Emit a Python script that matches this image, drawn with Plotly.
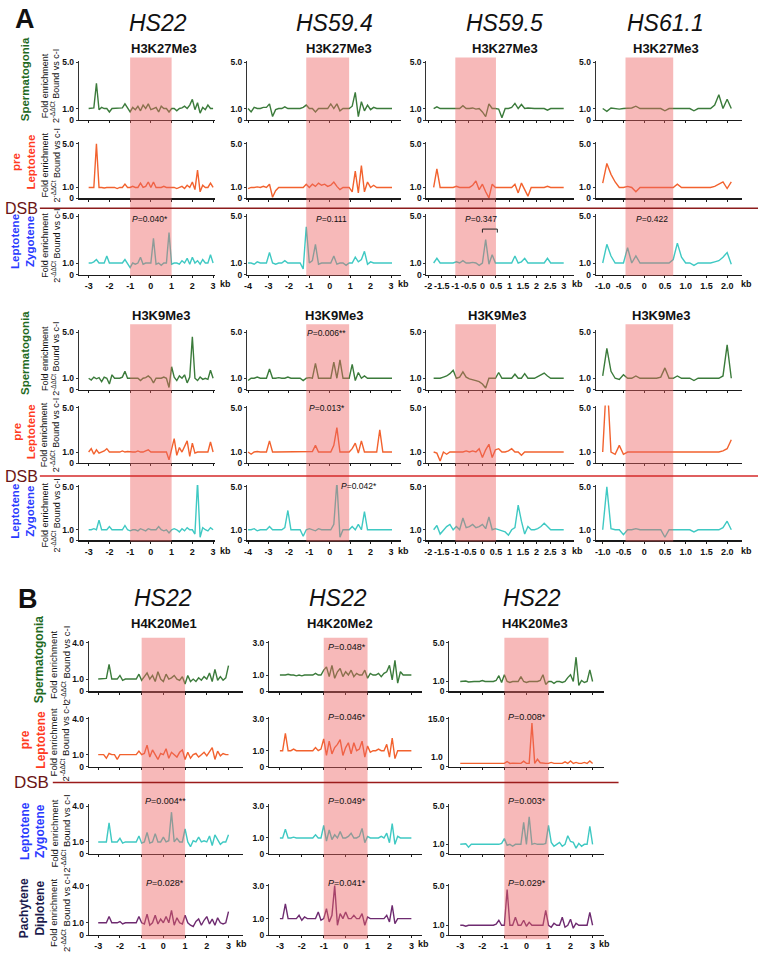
import plotly.graph_objects as go

W, H = 760, 959
FONT = "Liberation Sans, Arial, Helvetica, sans-serif"


def fx(p):
    return p / W


def fy(p):
    return 1 - p / H


# ---------------- positions (kb) ----------------
pos_hs22 = [-3.0, -2.875, -2.75, -2.625, -2.5, -2.375, -2.25, -2.125, -2.0, -1.875, -1.75, -1.625, -1.5,
            -1.375, -1.25, -1.125, -1.0, -0.875, -0.75, -0.625, -0.5, -0.375, -0.25, -0.125, 0.0, 0.125,
            0.25, 0.375, 0.5, 0.625, 0.75, 0.875, 1.0, 1.125, 1.25, 1.375, 1.5, 1.625, 1.75, 1.875, 2.0,
            2.125, 2.25, 2.375, 2.5, 2.625, 2.75, 2.875, 3.0]
pos_hs594 = [-4.0, -3.85, -3.7, -3.55, -3.4, -3.25, -3.1, -2.95, -2.8, -2.65, -2.5, -2.35, -2.2, -2.05,
             -1.9, -1.75, -1.6, -1.45, -1.3, -1.15, -1.0, -0.85, -0.7, -0.55, -0.4, -0.25, -0.1, 0.05,
             0.2, 0.35, 0.5, 0.65, 0.8, 0.95, 1.1, 1.25, 1.4, 1.55, 1.7, 1.85, 2.0, 2.15, 2.3, 2.45,
             2.6, 2.75, 2.9, 3.05]
pos_hs595 = [-1.8, -1.68, -1.56, -1.44, -1.32, -1.2, -1.08, -0.96, -0.84, -0.72, -0.6, -0.48, -0.36,
             -0.24, -0.12, 0.0, 0.12, 0.24, 0.36, 0.48, 0.6, 0.72, 0.84, 0.96, 1.08, 1.2, 1.32, 1.44,
             1.56, 1.68, 1.8, 1.92, 2.04, 2.16, 2.28, 2.4, 2.52, 2.64, 2.76, 2.88, 3.0]
pos_hs611 = [-1.0, -0.9, -0.8, -0.7, -0.6, -0.5, -0.4, -0.3, -0.2, -0.1, 0.0, 0.1, 0.2, 0.3, 0.4, 0.5,
             0.6, 0.7, 0.8, 0.9, 1.0, 1.1, 1.2, 1.3, 1.4, 1.5, 1.6, 1.7, 1.8, 1.9, 2.0, 2.1]

# ---------------- A: H3K27Me3 ----------------
k27_hs22_sg = [1.0, 1.0, 1.05, 3.2, 0.9, 1.1, 1.0, 1.0, 0.7, 1.0,
               1.0, 1.0, 1.0, 1.05, 1.4, 1.0, 0.7, 1.1, 0.9, 1.2,
               0.8, 1.3, 1.0, 1.4, 0.9, 1.0, 1.1, 0.7, 1.2, 1.0,
               1.0, 0.7, 1.0, 1.0, 0.8, 1.0, 1.05, 1.2, 1.0, 1.3,
               1.8, 0.9, 1.5, 0.6, 1.1, 0.9, 1.3, 1.0, 1.0]
k27_hs22_pl = [1.0, 1.0, 1.0, 5.0, 1.0, 1.0, 0.95, 1.0, 1.0, 1.0,
               1.0, 0.9, 1.0, 1.0, 1.3, 1.0, 1.0, 1.1, 1.0, 1.0,
               1.4, 1.0, 1.1, 1.5, 1.0, 1.5, 1.0, 1.0, 1.0, 1.1,
               1.0, 1.0, 1.0, 1.0, 0.9, 1.0, 1.1, 0.9, 1.2, 1.0,
               1.5, 0.8, 2.6, 0.6, 1.2, 1.0, 1.0, 1.4, 1.0]
k27_hs22_lz = [1.0, 1.0, 1.1, 1.3, 1.0, 1.0, 1.0, 1.6, 1.0, 1.0,
               1.0, 1.0, 1.0, 1.0, 1.3, 1.0, 0.6, 1.0, 0.9, 1.0,
               1.5, 0.9, 1.0, 1.0, 1.0, 3.1, 0.9, 1.0, 0.8, 1.0,
               1.0, 3.6, 0.9, 1.0, 1.0, 0.9, 1.2, 1.0, 1.4, 0.9,
               1.5, 1.0, 1.2, 0.9, 1.3, 1.0, 1.0, 1.7, 1.0]
k27_hs594_sg = [1.0, 0.7, 1.1, 1.0, 1.0, 1.1, 1.1, 1.4, 0.3, 0.9,
                1.0, 1.0, 1.15, 1.0, 1.0, 1.0, 1.0, 1.0, 1.1, 1.3,
                1.0, 1.0, 0.7, 1.0, 1.0, 1.0, 1.0, 1.4, 1.0, 1.4,
                0.8, 1.0, 1.0, 1.0, 1.2, 2.4, 0.3, 1.6, 0.8, 1.3,
                0.9, 1.1, 1.0, 1.0, 1.0, 1.0, 1.0, 1.0]
k27_hs594_pl = [0.9, 1.0, 1.0, 1.05, 1.0, 1.1, 1.0, 1.3, 0.1, 0.7,
                1.0, 1.0, 1.0, 1.0, 1.05, 1.0, 1.0, 1.0, 1.0, 1.3,
                1.0, 1.3, 1.1, 1.4, 1.2, 1.3, 1.1, 1.2, 1.5, 1.1,
                0.8, 1.0, 1.0, 1.0, 0.6, 2.5, 0.5, 3.0, 0.6, 1.5,
                1.0, 1.2, 1.0, 1.0, 1.0, 1.0, 1.0, 1.0]
k27_hs594_lz = [1.0, 1.0, 0.9, 1.1, 1.0, 1.0, 1.0, 1.9, 1.0, 0.9,
                1.0, 1.0, 1.2, 1.0, 1.0, 1.0, 1.05, 1.0, 0.5, 4.1,
                1.0, 1.2, 2.6, 0.9, 1.0, 1.0, 1.05, 1.0, 1.6, 0.9,
                1.0, 1.0, 0.8, 1.0, 1.0, 1.5, 1.1, 1.3, 2.0, 0.9,
                1.1, 1.0, 1.0, 1.0, 1.0, 1.0, 1.0, 1.0]
k27_hs595_sg = [1.0, 1.15, 1.0, 1.0, 1.05, 1.0, 1.0, 1.0, 1.0, 1.25,
                1.0, 1.0, 1.05, 0.95, 1.0, 0.7, 0.3, 1.4, 1.0, 1.0,
                0.95, 0.2, 1.0, 1.0, 1.1, 1.45, 1.0, 1.35, 1.0, 1.05,
                1.0, 1.0, 1.0, 1.0, 1.0, 0.85, 1.0, 1.0, 1.0, 1.0, 1.0]
k27_hs595_pl = [1.0, 2.7, 1.0, 1.0, 1.0, 1.0, 1.0, 1.1, 1.0, 1.0,
                1.0, 1.0, 1.2, 1.6, 0.8, 1.3, 0.6, 0.05, 1.3, 1.0,
                1.0, 1.0, 1.0, 1.0, 1.0, 1.3, 0.5, 1.4, 0.8, 0.2,
                1.0, 1.0, 1.0, 1.0, 1.0, 1.1, 1.0, 1.0, 1.0, 1.0, 1.0]
k27_hs595_lz = [1.0, 1.4, 1.0, 1.0, 1.05, 1.0, 1.0, 1.1, 1.0, 1.2,
                1.0, 1.0, 1.05, 1.0, 0.8, 1.0, 3.0, 0.9, 1.7, 1.0,
                1.0, 1.0, 1.0, 1.0, 1.0, 1.6, 1.0, 1.1, 1.4, 1.0,
                1.0, 1.0, 1.0, 1.0, 1.0, 1.4, 1.0, 1.0, 1.0, 1.0, 1.0]
k27_hs611_sg = [1.0, 0.75, 1.05, 1.0, 0.95, 1.0, 1.0, 1.05, 1.2, 1.0,
                1.0, 1.0, 1.0, 1.0, 1.0, 0.8, 1.0, 1.0, 1.0, 1.0,
                1.0, 1.0, 0.8, 1.0, 1.0, 1.0, 1.0, 1.3, 2.2, 1.0,
                1.8, 1.0]
k27_hs611_pl = [1.4, 3.2, 2.2, 1.5, 1.0, 1.0, 1.1, 1.0, 0.6, 1.0,
                1.0, 1.0, 1.0, 1.0, 1.0, 1.0, 1.0, 1.0, 1.3, 1.0,
                1.0, 1.0, 1.0, 1.0, 1.0, 1.0, 1.0, 1.1, 1.3, 1.5,
                0.9, 1.5]
k27_hs611_lz = [1.0, 2.6, 1.6, 1.0, 1.0, 1.0, 2.3, 1.0, 1.6, 1.0,
                1.0, 1.0, 1.0, 1.0, 1.0, 1.0, 1.0, 1.3, 2.7, 1.5,
                1.0, 1.0, 0.8, 1.0, 1.0, 1.0, 1.0, 1.1, 1.2, 1.5,
                1.9, 0.9]

# ---------------- A: H3K9Me3 ----------------
k9_hs22_sg = [1.0, 0.85, 1.1, 0.95, 1.05, 0.7, 1.1, 1.0, 0.5, 1.3,
              1.0, 1.0, 1.0, 1.1, 1.6, 1.0, 1.0, 1.0, 0.95, 1.0,
              0.8, 1.0, 1.05, 1.2, 1.0, 0.6, 1.0, 1.0, 1.0, 1.1,
              1.0, 0.2, 2.0, 1.1, 0.8, 1.2, 1.0, 1.3, 0.6, 1.1,
              4.6, 1.0, 0.8, 1.1, 0.9, 1.0, 0.9, 1.7, 1.0]
k9_hs22_pl = [1.0, 1.3, 0.8, 1.2, 0.9, 1.0, 1.1, 1.3, 1.0, 1.0,
              1.0, 1.0, 1.0, 1.1, 1.0, 1.05, 1.0, 1.0, 1.0, 1.1,
              1.0, 1.0, 1.1, 1.2, 1.0, 1.0, 1.0, 1.0, 1.05, 1.0,
              1.0, 0.3, 1.2, 2.2, 0.7, 1.4, 1.0, 1.5, 2.0, 0.6,
              1.8, 0.9, 1.0, 1.0, 1.0, 1.0, 1.0, 1.9, 1.0]
k9_hs22_lz = [1.0, 1.0, 1.1, 1.0, 1.9, 1.0, 1.0, 1.0, 1.3, 1.0,
              1.0, 1.0, 1.0, 1.0, 1.4, 1.0, 0.9, 1.0, 1.0, 0.9,
              1.1, 1.0, 0.9, 1.1, 1.0, 1.0, 1.0, 1.3, 1.0, 0.9,
              1.0, 0.7, 1.0, 1.1, 1.0, 0.8, 1.1, 0.9, 1.2, 1.0,
              1.0, 0.6, 5.5, 0.3, 1.2, 1.0, 0.9, 1.2, 1.0]
k9_hs594_sg = [0.8, 1.0, 1.0, 1.1, 1.0, 1.0, 1.0, 1.8, 1.0, 1.0,
               1.05, 1.0, 1.0, 1.1, 1.0, 1.0, 1.0, 1.0, 0.8, 1.0,
               1.05, 1.0, 2.3, 1.0, 1.0, 1.0, 1.0, 1.0, 2.4, 1.0,
               2.6, 1.0, 1.0, 1.0, 2.2, 0.8, 1.5, 1.0, 1.2, 1.0,
               1.0, 1.0, 1.0, 1.0, 1.0, 1.0, 1.0, 1.0]
k9_hs594_pl = [1.0, 0.8, 1.0, 1.05, 1.0, 1.0, 1.0, 2.0, 1.0, 1.0,
               1.0, 1.05, 1.0, 1.0, 1.0, 1.0, 1.0, 1.0, 1.0, 1.0,
               1.0, 1.05, 1.6, 1.0, 1.0, 1.0, 1.0, 1.0, 1.6, 3.2,
               1.0, 1.0, 1.0, 1.0, 1.3, 1.8, 0.9, 2.0, 1.0, 1.0,
               1.0, 1.0, 1.0, 3.0, 1.0, 1.0, 1.0, 1.0]
k9_hs594_lz = [1.0, 1.0, 1.1, 0.9, 1.0, 1.0, 1.0, 1.3, 1.0, 1.0,
               1.0, 1.0, 1.2, 2.8, 1.0, 1.0, 1.0, 1.0, 0.4, 1.0,
               1.1, 1.0, 0.9, 1.1, 1.0, 1.0, 1.0, 1.0, 1.5, 5.5,
               0.3, 1.0, 1.0, 1.0, 1.3, 1.0, 1.5, 1.0, 2.7, 1.0,
               1.0, 1.0, 1.0, 1.0, 1.0, 1.0, 1.0, 1.0]
k9_hs595_sg = [1.0, 1.0, 1.0, 1.1, 1.2, 1.4, 1.7, 1.0, 1.1, 1.55,
               1.1, 0.95, 0.9, 0.8, 0.7, 0.5, 0.15, 1.0, 1.0, 1.0,
               1.5, 1.0, 1.0, 1.0, 1.0, 1.35, 1.0, 1.0, 1.4, 1.0,
               1.0, 1.0, 1.15, 1.3, 1.45, 1.2, 1.0, 1.0, 1.0, 1.0, 1.0]
k9_hs595_pl = [1.0, 0.9, 0.2, 1.0, 0.8, 1.0, 1.0, 1.0, 1.05, 1.0,
               1.1, 1.0, 1.1, 1.0, 1.3, 0.5, 1.2, 1.7, 0.5, 1.2,
               1.3, 1.0, 1.0, 1.1, 1.3, 1.0, 1.0, 0.7, 1.0, 1.0,
               1.0, 1.0, 1.0, 1.0, 1.0, 1.0, 1.0, 1.0, 1.0, 1.0, 1.0]
k9_hs595_lz = [1.0, 1.4, 0.6, 1.0, 1.3, 1.5, 1.0, 1.3, 1.0, 2.1,
               1.2, 1.3, 1.5, 1.2, 1.3, 1.5, 1.1, 2.2, 1.0, 1.1,
               1.0, 0.9, 0.8, 0.5, 1.0, 1.2, 3.3, 1.8, 0.6, 1.3,
               1.0, 1.0, 1.1, 1.3, 1.6, 1.3, 1.0, 1.0, 1.0, 1.0, 1.0]
k9_hs611_sg = [1.2, 3.6, 1.6, 1.0, 0.9, 1.3, 1.0, 1.0, 1.2, 1.0,
               1.0, 1.0, 1.0, 1.0, 1.1, 1.9, 1.0, 1.0, 1.2, 1.0,
               1.0, 1.0, 0.8, 1.0, 1.0, 1.0, 1.0, 1.0, 1.0, 1.2,
               3.9, 1.0]
k9_hs611_pl = [1.0, 8.0, 1.0, 0.8, 1.6, 0.8, 1.0, 1.0, 1.0, 1.0,
               1.0, 1.0, 1.0, 0.95, 1.0, 1.0, 1.0, 1.0, 1.0, 1.0,
               1.0, 1.0, 1.0, 0.95, 1.0, 1.0, 1.0, 1.0, 1.0, 1.1,
               1.3, 2.1]
k9_hs611_lz = [1.0, 5.0, 1.1, 1.0, 1.0, 0.55, 1.0, 1.0, 1.1, 1.0,
               1.0, 1.0, 1.0, 1.0, 1.0, 0.3, 1.0, 1.0, 1.0, 1.0,
               1.0, 1.0, 0.8, 1.0, 1.0, 1.0, 1.0, 1.0, 1.0, 1.2,
               1.8, 1.0]

# ---------------- B: H4K20 (HS22) ----------------
me1_sg = [1.0, 1.0, 1.0, 1.05, 2.2, 1.0, 1.0, 1.0, 1.3, 0.9,
          1.0, 1.0, 1.0, 1.0, 1.0, 1.4, 0.9, 1.2, 1.5, 1.0,
          1.3, 0.8, 1.6, 1.0, 0.8, 1.4, 1.0, 1.1, 1.3, 1.0,
          0.9, 1.2, 0.6, 1.3, 0.8, 1.0, 0.8, 1.1, 0.9, 1.2,
          1.0, 1.5, 0.8, 1.8, 0.9, 1.2, 0.9, 1.1, 2.1]
me1_pl = [1.0, 1.0, 1.0, 0.7, 1.1, 1.0, 1.0, 0.6, 1.0, 1.0,
          1.0, 1.0, 1.0, 1.0, 1.0, 1.3, 1.0, 1.1, 1.8, 0.8,
          1.4, 1.0, 0.6, 1.1, 1.0, 1.5, 0.7, 1.2, 1.0, 0.8,
          1.2, 1.4, 0.6, 1.2, 0.7, 1.0, 1.1, 0.8, 1.0, 1.2,
          0.9, 1.3, 1.6, 0.6, 1.3, 0.9, 1.1, 1.0, 1.0]
me1_lz = [1.0, 1.0, 1.0, 1.0, 2.6, 1.0, 1.0, 1.0, 1.3, 0.9,
          1.0, 1.0, 1.0, 1.0, 1.0, 1.5, 0.9, 1.0, 1.8, 0.9,
          1.0, 1.7, 1.0, 1.0, 1.4, 1.0, 1.1, 3.5, 1.0, 1.3,
          1.0, 1.0, 2.1, 1.0, 0.6, 1.1, 1.0, 1.4, 1.0, 1.1,
          1.0, 1.5, 0.7, 1.6, 1.2, 0.8, 1.0, 1.0, 1.6]
me1_pd = [1.0, 1.0, 1.0, 1.0, 1.5, 1.0, 1.0, 1.0, 1.1, 0.9,
          1.0, 1.0, 1.0, 1.0, 1.0, 1.5, 1.0, 0.9, 1.7, 0.8,
          1.0, 1.6, 0.9, 1.3, 1.0, 1.5, 1.0, 2.0, 0.8, 1.4,
          1.0, 0.9, 1.6, 1.0, 0.8, 0.7, 1.1, 1.3, 0.8, 1.2,
          1.5, 0.9, 1.3, 0.8, 1.4, 1.0, 0.9, 1.0, 1.9]
me2_sg = [1.0, 1.0, 1.0, 1.05, 1.0, 1.0, 0.95, 1.0, 0.95, 1.0,
          1.0, 1.0, 1.0, 1.1, 1.0, 1.0, 1.3, 1.5, 0.9, 1.6,
          0.8, 1.2, 1.4, 0.9, 1.2, 1.0, 1.3, 0.9, 1.1, 1.0,
          1.0, 1.3, 0.8, 1.1, 1.0, 1.0, 1.1, 0.9, 1.1, 1.2,
          1.6, 0.7, 1.9, 0.5, 1.2, 1.0, 1.0, 1.0, 1.0]
me2_pl = [1.0, 1.0, 2.1, 1.0, 1.0, 1.1, 1.0, 1.0, 1.0, 1.0,
          1.0, 1.0, 1.0, 1.2, 1.0, 1.1, 1.75, 0.7, 1.6, 0.8,
          1.2, 1.4, 1.7, 0.7, 1.2, 1.5, 0.8, 1.5, 1.0, 1.1,
          1.6, 0.6, 1.3, 0.9, 1.0, 1.0, 1.1, 1.0, 1.0, 1.4,
          0.6, 1.8, 0.5, 1.0, 1.0, 1.0, 1.0, 1.0, 1.0]
me2_lz = [1.0, 1.0, 1.55, 1.0, 1.0, 1.05, 1.0, 1.0, 1.0, 1.0,
          1.0, 1.0, 1.0, 1.2, 1.0, 1.0, 1.8, 0.8, 1.5, 0.9,
          1.2, 1.0, 1.4, 1.0, 1.0, 1.1, 1.3, 1.0, 1.0, 1.1,
          1.6, 0.7, 1.1, 1.0, 1.0, 1.0, 1.0, 1.1, 1.0, 1.3,
          0.7, 1.9, 0.6, 1.1, 1.0, 1.0, 1.0, 1.0, 1.0]
me2_pd = [1.0, 1.0, 1.9, 1.0, 1.0, 1.0, 1.0, 1.2, 0.9, 1.1,
          1.0, 1.0, 1.0, 1.0, 1.4, 0.9, 1.0, 1.6, 0.8, 1.2,
          3.0, 0.6, 1.3, 1.0, 1.4, 1.0, 1.0, 1.2, 1.0, 1.0,
          1.3, 0.6, 1.1, 1.0, 1.0, 1.0, 1.0, 1.0, 1.0, 1.2,
          0.8, 1.8, 0.7, 1.0, 1.0, 1.0, 1.0, 1.0, 1.0]
me3_sg = [1.0, 1.0, 1.05, 0.95, 1.0, 1.0, 1.0, 1.0, 1.1, 1.0,
          1.0, 1.0, 1.0, 1.1, 1.6, 0.9, 1.7, 1.0, 0.9, 1.0,
          1.0, 1.0, 1.5, 1.0, 0.9, 1.0, 1.0, 1.0, 1.0, 1.1,
          1.7, 0.7, 1.0, 1.0, 0.8, 1.0, 1.0, 0.9, 1.0, 1.4,
          1.7, 1.0, 3.5, 0.6, 1.1, 0.9, 1.0, 2.2, 1.0]
me3_pl = [1.0, 1.0, 1.2, 1.0, 1.1, 1.0, 1.2, 1.0, 1.0, 1.0,
          1.1, 1.0, 1.0, 1.0, 1.0, 1.2, 1.0, 1.6, 1.0, 1.1,
          1.0, 1.0, 1.0, 1.7, 1.0, 1.0, 13.7, 1.0, 2.3, 1.2,
          1.0, 1.0, 1.0, 1.3, 1.0, 1.0, 1.2, 1.0, 1.5, 1.0,
          1.8, 1.0, 1.3, 1.0, 1.0, 1.3, 1.0, 1.8, 1.0]
me3_lz = [1.0, 1.0, 1.05, 0.7, 1.0, 1.0, 1.0, 1.0, 1.0, 1.0,
          1.0, 1.0, 1.0, 1.0, 1.0, 1.1, 1.6, 0.9, 1.0, 0.8,
          1.0, 1.0, 1.0, 3.3, 1.0, 3.9, 1.0, 1.1, 1.0, 1.0,
          1.0, 1.1, 3.0, 1.2, 0.8, 1.0, 1.2, 0.8, 1.0, 1.9,
          1.3, 1.2, 0.6, 1.1, 0.8, 1.0, 1.0, 2.9, 1.0]
me3_pd = [1.0, 1.0, 0.9, 1.0, 1.0, 1.0, 1.0, 1.0, 1.0, 1.0,
          1.0, 1.0, 1.0, 1.1, 1.5, 1.0, 1.0, 4.6, 1.0, 1.0,
          1.8, 1.0, 1.0, 1.5, 0.9, 1.3, 1.0, 1.0, 1.0, 1.0,
          1.0, 2.5, 1.0, 0.8, 1.2, 1.0, 1.0, 1.8, 0.8, 1.0,
          1.6, 0.7, 1.2, 1.0, 1.0, 1.0, 1.0, 2.3, 1.0]

# ---------------- labels / stats ----------------
hs_titles_A = ["HS22", "HS59.4", "HS59.5", "HS61.1"]
hs_titles_B = ["HS22", "HS22", "HS22"]
marks_A1 = ["H3K27Me3"] * 4
marks_A2 = ["H3K9Me3"] * 4
marks_B = ["H4K20Me1", "H4K20Me2", "H4K20Me3"]
pvals_A1 = ["0.040*", "0.111", "0.347", "0.422"]          # Leptotene/Zygotene row
pvals_A2 = [("0.006**", 0), ("0.013*", 1), ("0.042*", 2)]  # HS59.4 column, by row
pvals_B = {(1, 0): "0.048*", (1, 1): "0.046*", (2, 1): "0.008*",
           (0, 2): "0.004**", (1, 2): "0.049*", (2, 2): "0.003*",
           (0, 3): "0.028*", (1, 3): "0.041*", (2, 3): "0.029*"}
bracket_x = [0.0, 0.55]
bracket_y = [3.6, 3.9]

STAGE_COLOR = {"sg": "#3b7b3b", "pl": "#f2622e", "lz": "#3fc9c3", "pd": "#6e2b70"}
SHADE = "rgba(238,100,100,0.45)"

colsA = [
    dict(pos=pos_hs22, px=(76, 213), rng=(-3.48, 3.10), ticks=[-3, -2, -1, 0, 1, 2, 3],
         tlab=["-3", "-2", "-1", "0", "1", "2", "3"], shade=(-1, 1), kb=223),
    dict(pos=pos_hs594, px=(245, 400), rng=(-4.05, 3.51), ticks=[-4, -3, -2, -1, 0, 1, 2, 3],
         tlab=["-4", "-3", "-2", "-1", "0", "1", "2", "3"], shade=(-1.15, 0.95), kb=402),
    dict(pos=pos_hs595, px=(425, 573), rng=(-2.07, 3.37),
         ticks=[-2, -1.5, -1, -0.5, 0, 0.5, 1, 1.5, 2, 2.5, 3],
         tlab=["-2", "-1.5", "-1", "-0.5", "0", "0.5", "1", "1.5", "2", "2.5", "3"],
         shade=(-1, 0.5), kb=577),
    dict(pos=pos_hs611, px=(595, 742), rng=(-1.17, 2.36), ticks=[-1, -0.5, 0, 0.5, 1, 1.5, 2],
         tlab=["-1.0", "-0.5", "0", "0.5", "1.0", "1.5", "2.0"], shade=(-0.45, 0.7), kb=746),
]
colsB = [
    dict(pos=pos_hs22, px=(86, 241), rng=(-3.44, 3.67), ticks=[-3, -2, -1, 0, 1, 2, 3],
         tlab=["-3", "-2", "-1", "0", "1", "2", "3"], shade=(-1, 1), kb=239),
    dict(pos=pos_hs22, px=(267, 421), rng=(-3.5, 3.5), ticks=[-3, -2, -1, 0, 1, 2, 3],
         tlab=["-3", "-2", "-1", "0", "1", "2", "3"], shade=(-1, 1), kb=422),
    dict(pos=pos_hs22, px=(448, 603), rng=(-3.5, 3.5), ticks=[-3, -2, -1, 0, 1, 2, 3],
         tlab=["-3", "-2", "-1", "0", "1", "2", "3"], shade=(-1, 1), kb=604),
]

blocks = [
    dict(cols=colsA, rows=[(118, 60), (197, 142), (274, 215)], stages=["sg", "pl", "lz"],
         shade_px=(55, 275), kb_y=283,
         series=[[k27_hs22_sg, k27_hs22_pl, k27_hs22_lz],
                 [k27_hs594_sg, k27_hs594_pl, k27_hs594_lz],
                 [k27_hs595_sg, k27_hs595_pl, k27_hs595_lz],
                 [k27_hs611_sg, k27_hs611_pl, k27_hs611_lz]],
         ytop=[[5, 5, 5]] * 4),
    dict(cols=colsA, rows=[(390, 332), (464, 408), (542, 488)], stages=["sg", "pl", "lz"],
         shade_px=(324, 543), kb_y=553,
         series=[[k9_hs22_sg, k9_hs22_pl, k9_hs22_lz],
                 [k9_hs594_sg, k9_hs594_pl, k9_hs594_lz],
                 [k9_hs595_sg, k9_hs595_pl, k9_hs595_lz],
                 [k9_hs611_sg, k9_hs611_pl, k9_hs611_lz]],
         ytop=[[5, 5, 5]] * 4),
    dict(cols=colsB, rows=[(694, 645), (770, 722), (858, 810), (940, 890)],
         stages=["sg", "pl", "lz", "pd"], shade_px=(640, 944), kb_y=949,
         series=[[me1_sg, me1_pl, me1_lz, me1_pd],
                 [me2_sg, me2_pl, me2_lz, me2_pd],
                 [me3_sg, me3_pl, me3_lz, me3_pd]],
         ytop=[[4, 4, 4, 4], [3, 3, 3, 3], [5, 15, 5, 5]]),
]

fig = go.Figure()
layout = {}
shapes = []
annotations = []
axis_of = {}
n = 0


def bold(t):
    return f"<b>{t}</b>"


def ann(text, x, y, size, color="#111111", angle=0, xanchor="center", yanchor="middle", **kw):
    d = dict(text=text, x=fx(x), y=fy(y), xref="paper", yref="paper", showarrow=False,
             font=dict(family=FONT, size=size, color=color), textangle=angle,
             xanchor=xanchor, yanchor=yanchor)
    d.update(kw)
    annotations.append(d)


for bi, b in enumerate(blocks):
    nrows = len(b["rows"])
    for ci, col in enumerate(b["cols"]):
        for ri, (p0, pT) in enumerate(b["rows"]):
            n += 1
            xn = "x" if n == 1 else f"x{n}"
            yn = "y" if n == 1 else f"y{n}"
            xk = "xaxis" if n == 1 else f"xaxis{n}"
            yk = "yaxis" if n == 1 else f"yaxis{n}"
            axis_of[(bi, ci, ri)] = (xn, yn)
            T = b["ytop"][ci][ri]
            top_px = pT - 2
            yr = [0, T * (p0 - top_px) / (p0 - pT)]
            vals = b["series"][ci][ri]
            m = min(len(vals), len(col["pos"]))
            stage = b["stages"][ri]
            fig.add_trace(go.Scatter(x=col["pos"][:m], y=vals[:m], xaxis=xn, yaxis=yn, mode="lines",
                                     line=dict(color=STAGE_COLOR[stage], width=1.4),
                                     hoverinfo="skip", showlegend=False))
            bottom = ri == nrows - 1
            layout[xk] = dict(domain=[fx(col["px"][0]), fx(col["px"][1])], range=list(col["rng"]),
                              anchor=yn, showline=True, linecolor="#1a1a1a", linewidth=1.3,
                              ticks="outside", ticklen=2, tickwidth=1, tickcolor="#1a1a1a",
                              tickvals=col["ticks"], ticktext=[bold(t) for t in col["tlab"]],
                              showticklabels=bottom, tickangle=0,
                              tickfont=dict(family=FONT, size=9, color="#111111"),
                              showgrid=False, zeroline=False, fixedrange=True)
            if T == 15:
                ytv, ytt = [0, 15], [bold("0"), bold("15.0")]
                ann(bold("1.0"), col["px"][0] - 4, p0 - 10, 8.5, xanchor="right")
            else:
                ytv, ytt = [0, 1, T], [bold("0"), bold("1.0"), bold(f"{T:.1f}")]
            layout[yk] = dict(domain=[fy(p0), fy(top_px)], range=yr, anchor=xn, showline=True,
                              linecolor="#333333", linewidth=1, ticks="outside", ticklen=2,
                              tickwidth=1, tickcolor="#333333", tickvals=ytv, ticktext=ytt,
                              tickfont=dict(family=FONT, size=8.5, color="#111111"),
                              showgrid=False, zeroline=False, fixedrange=True)
        # shaded window spanning the whole column of this block
        xn_bottom = axis_of[(bi, ci, nrows - 1)][0]
        shapes.append(dict(type="rect", xref=xn_bottom, yref="paper", x0=col["shade"][0],
                           x1=col["shade"][1], y0=fy(b["shade_px"][1]), y1=fy(b["shade_px"][0]),
                           fillcolor=SHADE, line=dict(width=0), layer="above"))
        ann(bold("kb"), col["kb"], b["kb_y"], 9)

# DSB separators
for (y_px, x0, x1, c) in [(207, 37, 758, "#8c1c1c"), (477, 37, 758, "#d42a2a"), (786, 50, 618, "#9b1b1b")]:
    shapes.append(dict(type="line", xref="paper", yref="paper", x0=fx(x0), x1=fx(x1), y0=fy(y_px),
                       y1=fy(y_px), line=dict(color=c, width=1.6), layer="above"))
for (x_px, y_px, s) in [(19, 207, 16), (19, 477, 16), (29, 786, 17)]:
    ann("DSB", x_px, y_px, s, color="#6b1515")

# bracket over HS59.5 Leptotene/Zygotene
bx, by = axis_of[(0, 2, 2)]
shapes.append(dict(type="path", xref=bx, yref=by,
                   path=f"M {bracket_x[0]},{bracket_y[0]} L {bracket_x[0]},{bracket_y[1]} "
                        f"L {bracket_x[1]},{bracket_y[1]} L {bracket_x[1]},{bracket_y[0]}",
                   line=dict(color="#222222", width=1), layer="above"))

# panel letters and titles
ann(bold("A"), 22, 16, 27)
ann(bold("B"), 25, 601, 27)
for t, x in zip(hs_titles_A, [156, 333, 503, 665]):
    ann(f"<i>{t}</i>", x, 20, 23)
for t, x in zip(marks_A1, [162, 337, 504, 666]):
    ann(bold(t), x, 46, 13)
for t, x in zip(marks_A2, [159, 333, 496, 661]):
    ann(bold(t), x, 315, 13)
for t, x in zip(hs_titles_B, [161, 336, 531]):
    ann(f"<i>{t}</i>", x, 600, 23)
for t, x in zip(marks_B, [162, 338, 534]):
    ann(bold(t), x, 626, 13)

# P-values
for p, x in zip(pvals_A1, [148, 330, 480, 652]):
    ann(f"<i>P</i>={p}", x, 218, 8.5)
for (p, r), y in zip(pvals_A2, [333, 408, 487]):
    ann(f"<i>P</i>={p}", 325 if r < 2 else 357, y, 8.5)
colx_B = [163, 345, 526]
rowy_B = [649, 720, 805, 887]
for (ci, ri), p in pvals_B.items():
    ann(f"<i>P</i>={p}", colx_B[ci], rowy_B[ri], 9)

# row labels
STAGE_LABEL = {"sg": ("Spermatogonia", "#1f6a1f"), "pl": ("pre<br>Leptotene", "#ff3b1f"),
               "lz": ("Leptotene<br>Zygotene", "#2b3bff"), "pd": ("Pachytene<br>Diplotene", "#1b1b4d")}
FOLD = "Fold enrichment<br>2<sup>-ΔΔCt</sup> Bound vs c-I"
rowlab_A1 = [("sg", 22, 77, 84), ("pl", 21, 160, 164), ("lz", 20, 240, 245)]
rowlab_A2 = [("sg", 22, 353, 359), ("pl", 21, 432, 436), ("lz", 20, 512, 517)]
for (st, x, y, yf) in rowlab_A1 + rowlab_A2:
    txt, c = STAGE_LABEL[st]
    ann(bold(txt), x, y, 11.5, color=c, angle=-90)
    ann(FOLD, 48, yf, 9, angle=-90)
rowlab_B = [("sg", 37, 662, 668), ("pl", 30, 743, 746), ("lz", 30, 835, 838), ("pd", 30, 913, 918)]
for (st, x, y, yf) in rowlab_B:
    txt, c = STAGE_LABEL[st]
    ann(bold(txt), x, y, 12, color=c, angle=-90)
    ann(FOLD, 57, yf, 9.5, angle=-90)

fig.update_layout(width=W, height=H, margin=dict(l=0, r=0, t=0, b=0), paper_bgcolor="white",
                  plot_bgcolor="rgba(0,0,0,0)", showlegend=False, font=dict(family=FONT),
                  shapes=shapes, annotations=annotations, **layout)
fig.write_html("out.html", config={"displayModeBar": False, "staticPlot": True},
               post_script="document.body.style.margin='0px';document.body.style.padding='0px';"
                           "document.body.style.overflow='hidden';")
